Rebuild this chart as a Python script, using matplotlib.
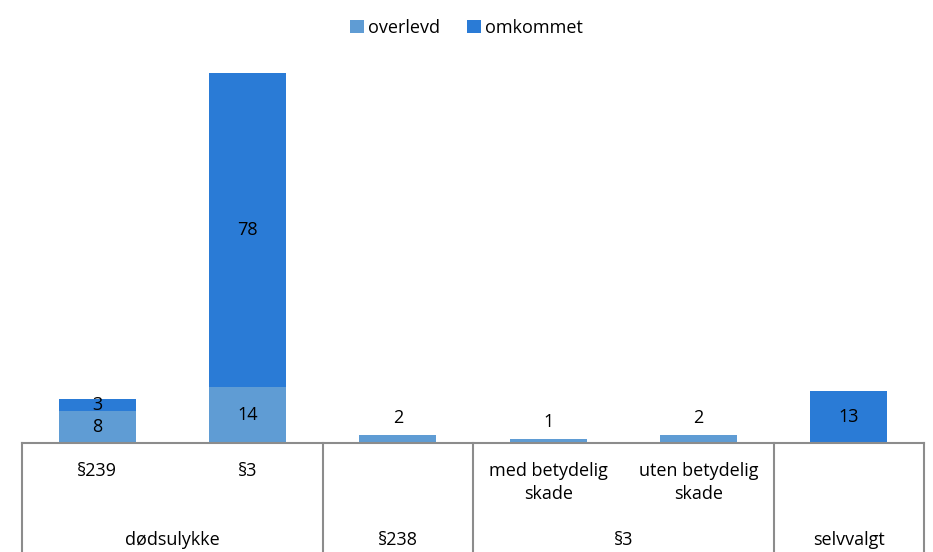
import matplotlib
matplotlib.use('Agg')
from matplotlib import pyplot as plt
import numpy as np

plt.rcParams['font.family'] = ['Open Sans', 'DejaVu Sans']

sub_labels = ['§239', '§3', '', 'med betydelig\nskade', 'uten betydelig\nskade', '']
groups = ['dødsulykke', '§238', '§3', 'selvvalgt']
group_sizes = [2, 1, 2, 1]
overlevd = [8, 14, 2, 1, 2, 0]
omkommet = [3, 78, 0, 0, 0, 13]

c_over = '#5f9cd4'
c_omk = '#2a7bd6'
fs = 13

fig = plt.figure(figsize=(9.33, 5.52), dpi=100)
ax = fig.add_axes([22 / 933, 109 / 552, 902 / 933, 402 / 552])

x = np.arange(len(sub_labels))
w = 0.51
ax.bar(x, overlevd, w, color=c_over, label='overlevd')
ax.bar(x, omkommet, w, bottom=overlevd, color=c_omk, label='omkommet')

for i in x:
    o, m = overlevd[i], omkommet[i]
    if o > 0:
        if o >= 5:
            ax.text(i, o / 2, str(o), ha='center', va='center', fontsize=fs)
        else:
            ax.text(i, o + 2.0, str(o), ha='center', va='bottom', fontsize=fs)
    if m > 0:
        ax.text(i, o + m / 2, str(m), ha='center', va='center', fontsize=fs)

ax.set_xlim(-0.5, len(x) - 0.5)
ax.set_ylim(0, 100)
ax.set_yticks([])
ax.set_xticks([])
for s in ['top', 'right', 'left']:
    ax.spines[s].set_visible(False)
ax.spines['bottom'].set_color('#8c8c8c')
ax.spines['bottom'].set_linewidth(1.5)

# category table under the axis
trans = ax.get_xaxis_transform()
ybot = -109 / 402
edges = [-0.5]
for n in group_sizes:
    edges.append(edges[-1] + n)
for e in edges:
    ax.plot([e, e], [0, ybot], transform=trans, color='#8c8c8c', lw=1.5, clip_on=False)
for i, lab in enumerate(sub_labels):
    if lab:
        ax.text(i, -19 / 402, lab, transform=trans, ha='center', va='top', fontsize=fs,
                linespacing=1.35)
for k, g in enumerate(groups):
    c = (edges[k] + edges[k + 1]) / 2
    ax.text(c, -97 / 402, g, transform=trans, ha='center', va='center', fontsize=fs)

fig.legend(loc='center', bbox_to_anchor=(0.5, 1 - 28 / 552), ncol=2, frameon=False,
           fontsize=fs, handlelength=0.75, handleheight=0.75, handletextpad=0.25,
           columnspacing=1.5)

fig.savefig('out.png', dpi=100)
